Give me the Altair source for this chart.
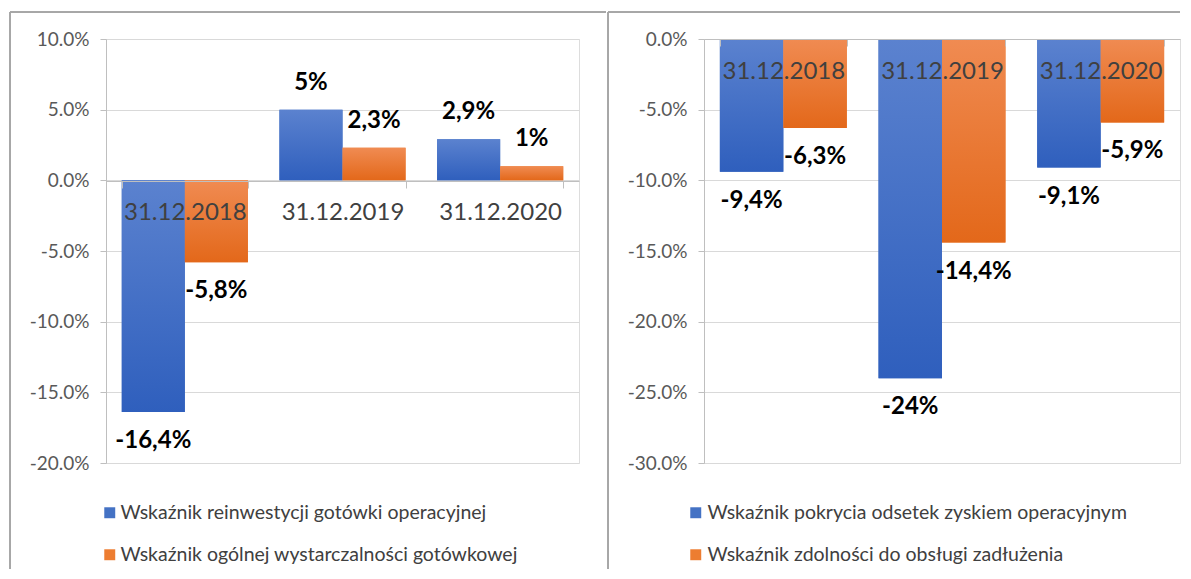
import altair as alt
import pandas as pd

categories = ["31.12.2018", "31.12.2019", "31.12.2020"]

left_series = ["Wskaźnik reinwestycji gotówki operacyjnej",
               "Wskaźnik ogólnej wystarczalności gotówkowej"]
left_a = [-16.4, 5.0, 2.9]
left_b = [-5.8, 2.3, 1.0]

right_series = ["Wskaźnik pokrycia odsetek zyskiem operacyjnym",
                "Wskaźnik zdolności do obsługi zadłużenia"]
right_a = [-9.4, -24.0, -9.1]
right_b = [-6.3, -14.4, -5.9]

left_ticks = [0.10, 0.05, 0.0, -0.05, -0.10, -0.15, -0.20]
right_ticks = [0.0, -0.05, -0.10, -0.15, -0.20, -0.25, -0.30]

FONT = "Lato"
BLUE = "#4472c4"
ORANGE = "#ed7d31"
GRAD_BLUE = alt.Gradient(gradient="linear", x1=0, x2=0, y1=0, y2=1,
                         stops=[alt.GradientStop(color="#5b82cf", offset=0),
                                alt.GradientStop(color="#2f5fbd", offset=1)])
GRAD_ORANGE = alt.Gradient(gradient="linear", x1=0, x2=0, y1=0, y2=1,
                           stops=[alt.GradientStop(color="#f08b52", offset=0),
                                  alt.GradientStop(color="#e3681a", offset=1)])


def fmt(v):
    s = f"{v:.1f}"
    if s.endswith(".0"):
        s = s[:-2]
    return s.replace(".", ",") + "%"


def make_df(series, a, b):
    rows = []
    for i, c in enumerate(categories):
        rows.append({"cat": c, "series": series[0], "value": a[i] / 100, "label": fmt(a[i])})
        rows.append({"cat": c, "series": series[1], "value": b[i] / 100, "label": fmt(b[i])})
    return pd.DataFrame(rows)


def panel(series, a, b, domain, ticks, width, zero_px, left_border_x, top_border_end,
          legend_x, cat_pad, label_offset):
    H = 424
    df = make_df(series, a, b)
    base = alt.Chart(df)
    x = alt.X("cat:N", sort=categories, title=None,
              scale=alt.Scale(paddingInner=0.2, paddingOuter=0.1),
              axis=alt.Axis(orient="bottom", offset=-(H - zero_px), zindex=1,
                            tickBand="extent", tickSize=7, tickColor="#bfbfbf",
                            domainColor="#bfbfbf", labelFont=FONT, labelFontSize=24,
                            labelColor="#404040", labelPadding=cat_pad, labelAngle=0,
                            grid=False))
    y = alt.Y("value:Q", title=None,
              scale=alt.Scale(domain=domain, nice=False, zero=False),
              axis=alt.Axis(values=ticks, grid=True, gridColor="#d9d9d9",
                            domainColor="#bfbfbf", tickColor="#bfbfbf", tickSize=6,
                            labelFont=FONT, labelFontSize=19, labelColor="#595959",
                            labelPadding=11,
                            labelExpr="replace(format(datum.value, '.1%'), '\u2212', '-')"))
    xo = alt.XOffset("series:N", sort=series, scale=alt.Scale(paddingInner=0, paddingOuter=0))
    bars = base.mark_bar().encode(
        x=x, y=y, xOffset=xo,
        color=alt.Color("series:N", title=None,
                        scale=alt.Scale(domain=series, range=[BLUE, ORANGE]),
                        legend=alt.Legend(orient="none", legendX=legend_x, legendY=464,
                                          direction="vertical", symbolType="square",
                                          symbolSize=120, symbolStrokeWidth=0,
                                          labelFont=FONT, labelFontSize=19.5,
                                          labelColor="#404040", labelOffset=label_offset,
                                          rowPadding=21, labelLimit=600)))
    over_a = base.mark_bar(color=GRAD_BLUE).encode(x=x, y=y, xOffset=xo).transform_filter(
        alt.datum.series == series[0])
    over_b = base.mark_bar(color=GRAD_ORANGE).encode(x=x, y=y, xOffset=xo).transform_filter(
        alt.datum.series == series[1])
    txt_pos = base.mark_text(font=FONT, fontSize=24, fontWeight="bold", color="#000000",
                             baseline="middle", dy=-27).encode(
        x=x, y=y, xOffset=xo, text="label:N").transform_filter(alt.datum.value >= 0)
    txt_neg = base.mark_text(font=FONT, fontSize=24, fontWeight="bold", color="#000000",
                             baseline="middle", dy=29).encode(
        x=x, y=y, xOffset=xo, text="label:N").transform_filter(alt.datum.value < 0)
    top_border = base.mark_rule(color="#a6a6a6", strokeWidth=1).encode(
        x=alt.value(left_border_x), x2=alt.value(top_border_end), y=alt.value(-27))
    left_border = base.mark_rule(color="#a6a6a6", strokeWidth=1).encode(
        x=alt.value(left_border_x), y=alt.value(-27), y2=alt.value(530))
    return alt.layer(bars, over_a, over_b, txt_pos, txt_neg, top_border, left_border).properties(
        width=width, height=H)


left = panel(left_series, left_a, left_b, [-0.20, 0.10], left_ticks, 473, 142,
             -96, 500, -6, 12, 1)
right = panel(right_series, right_a, right_b, [-0.30, 0.0], right_ticks, 476, 0,
              -96, 476, -18, 13, 2)

chart = alt.hconcat(left, right, spacing=0).resolve_scale(
    color="independent", x="independent", y="independent", xOffset="independent"
).properties(
    padding={"left": 1, "top": 3, "right": 0, "bottom": 0}
).configure_view(stroke=None).configure(background="white")

chart.save("out.html", embed_options={"renderer": "svg", "actions": False})
